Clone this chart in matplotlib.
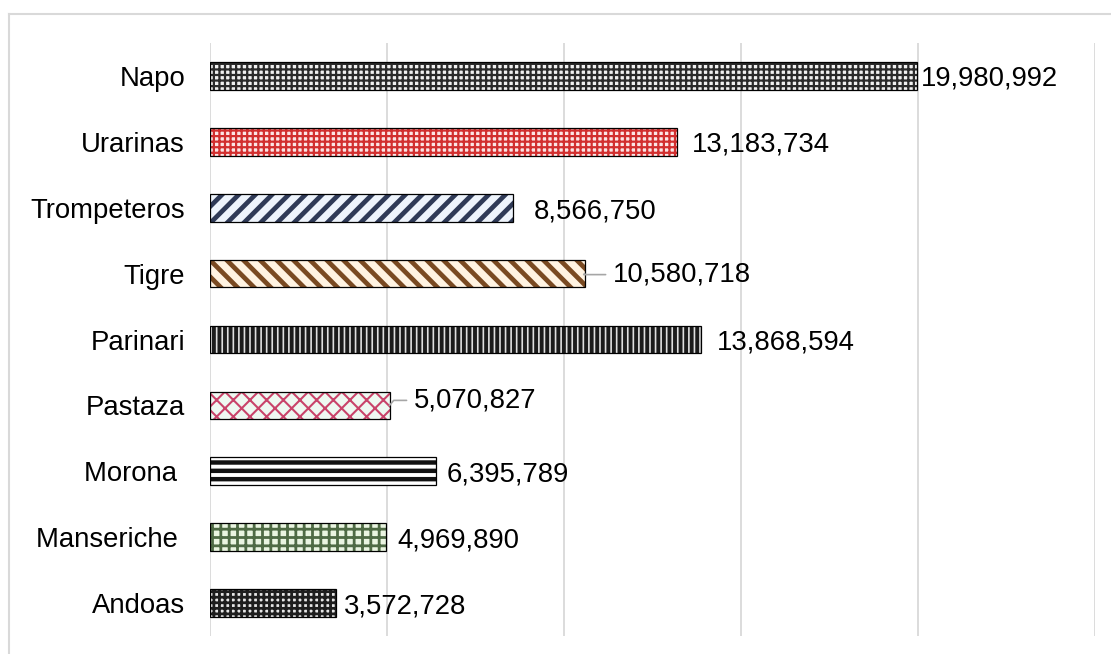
import matplotlib
matplotlib.use("Agg")
import matplotlib.pyplot as plt
from matplotlib.lines import Line2D

# Datos (de abajo hacia arriba en el grafico)
districts = ["Andoas", "Manseriche ", "Morona ", "Pastaza", "Parinari",
             "Tigre", "Trompeteros", "Urarinas", "Napo"]
values = [3572728, 4969890, 6395789, 5070827, 13868594,
          10580718, 8566750, 13183734, 19980992]

# Estilo de cada barra: (relleno, color de trama, trama, grosor de trama)
styles = [
    ("#e6e6e6", "#1e1e1e", "+++", 2.0),
    ("#eaf5e1", "#4f6b45", "++", 2.0),
    ("#ffffff", "#111111", "--", 3.2),
    ("#eef8f1", "#c9436a", "xx", 1.5),
    ("#e0e0e0", "#1c1c1c", "|||", 2.8),
    ("#fff3e2", "#7a4a22", "\\\\", 3.4),
    ("#eef4fc", "#2f3a57", "//", 3.4),
    ("#fbe6e6", "#d22f2f", "+++", 1.6),
    ("#f0f0f0", "#2a2a2a", "+++", 1.6),
]

# Separacion de las etiquetas (pixeles) y lineas guia
label_dx = [7, 11, 10, 24, 16, 28, 20, 15, 4]
label_dy = [0, 0, 0, 8, 0, 2, -1, 0, 0]
leader = [False, False, False, True, False, True, False, False, False]

plt.rcParams["font.family"] = ["Liberation Sans", "DejaVu Sans"]

fig = plt.figure(figsize=(11.11, 6.54), dpi=100)
ax = fig.add_axes([210 / 1111, 18 / 654, 885 / 1111, 593 / 654])

grid_gray = "#d9d9d9"

for i, (v, st) in enumerate(zip(values, styles)):
    face, hcol, hatch, hlw = st
    with plt.rc_context({"hatch.linewidth": hlw}):
        b = ax.barh(i, v, height=0.42, color=face, edgecolor=hcol,
                    hatch=hatch, linewidth=0, zorder=2)
    for p in b:
        if hasattr(p, "set_hatch_linewidth"):
            p.set_hatch_linewidth(hlw)
    ax.barh(i, v, height=0.42, facecolor="none", edgecolor="black",
            linewidth=0.9, zorder=3)

    txt = f"{v:,}"
    arrow = None
    if leader[i]:
        arrow = dict(arrowstyle="-", color="#a6a6a6", lw=1.2,
                     shrinkA=3, shrinkB=0,
                     connectionstyle="angle,angleA=0,angleB=50,rad=0")
    ax.annotate(txt, xy=(v, i), xytext=(label_dx[i], label_dy[i]),
                textcoords="offset pixels", ha="left", va="center_baseline",
                fontsize=19.8, arrowprops=arrow)

ax.set_xlim(0, 25000000)
ax.set_ylim(-0.5, len(districts) - 0.5)
ax.set_xticks(range(0, 25000001, 5000000))
ax.set_xticklabels([])
ax.set_yticks(range(len(districts)))
ax.set_yticklabels(districts, fontsize=19.8, va="center_baseline")
ax.tick_params(axis="both", length=0)
ax.tick_params(axis="y", pad=18)
ax.grid(axis="x", color=grid_gray, linewidth=1.3)
ax.set_axisbelow(True)
for s in ax.spines.values():
    s.set_visible(False)

# Marco exterior del grafico (solo borde superior e izquierdo visibles)
x0 = 9 / 1111
y0 = 1 - 14 / 654
fig.add_artist(Line2D([x0, 1.0], [y0, y0], color=grid_gray, linewidth=1.5))
fig.add_artist(Line2D([x0, x0], [0.0, y0], color=grid_gray, linewidth=1.5))

fig.savefig("out.png", dpi=100)
